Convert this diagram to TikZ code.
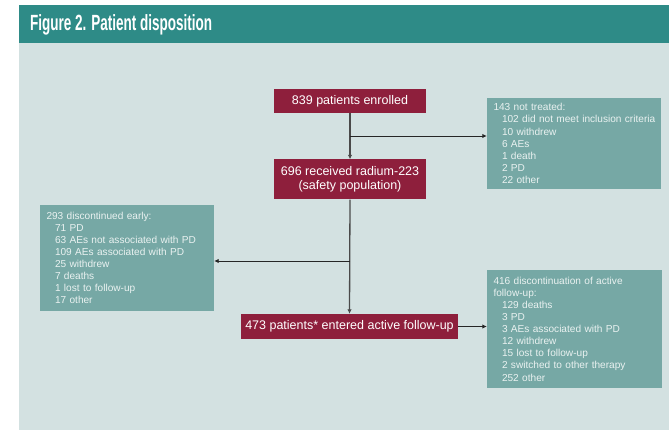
\documentclass[tikz,border=0pt]{standalone}
\usepackage{fontspec}
\setmainfont{Liberation Sans}
\usetikzlibrary{arrows.meta}
\definecolor{headteal}{HTML}{2E8B87}
\definecolor{lightbg}{HTML}{D3E1E1}
\definecolor{boxteal}{HTML}{76A8A5}
\definecolor{maroon}{HTML}{8E1F3C}
\definecolor{tealtext}{HTML}{EAF2F1}
\definecolor{vline}{HTML}{4A4A4A}
\newcommand{\ind}{\hspace*{8.5pt}}
\newcommand{\nohyph}{\hyphenpenalty=10000\relax\exhyphenpenalty=10000\relax\hbadness=10000\relax\hfuzz=20pt\relax}
\tikzset{
  redbox/.style={fill=maroon, text=white, inner sep=0pt, align=center,
    font=\fontsize{12.5}{14.5}\selectfont},
  tealbox/.style={fill=boxteal, text=tealtext, inner xsep=6.5pt, inner ysep=0pt, align=left,
    font=\fontsize{10.1}{12.1}\selectfont\nohyph},
  vconn/.style={draw=vline, line width=1.3pt, -{Latex[length=4.5pt,width=4.5pt]}},
  hconn/.style={draw=black!85, line width=0.9pt, -{Latex[length=4.5pt,width=4.5pt]}}
}
\begin{document}
\begin{tikzpicture}[x=1pt,y=-1pt]
\useasboundingbox (0,0) rectangle (669,430);
\fill[white] (0,0) rectangle (669,430);
\fill[headteal] (19,5) rectangle (669,43.5);
\fill[lightbg] (19,43.5) rectangle (669,430);
\node[anchor=base west, text=white, inner sep=0pt, font=\fontsize{22}{24}\selectfont\bfseries] (title) at (30,30.3)
  {\resizebox{182pt}{\height}{Figure 2. Patient disposition}};

\node[redbox, minimum width=152pt, minimum height=24pt] (enrolled) at (350,101) {839 patients enrolled};
\node[redbox, minimum width=152pt, minimum height=40pt] (radium) at (350,179.5) {696 received radium-223\\(safety population)};
\node[redbox, minimum width=217pt, minimum height=25pt] (follow) at (349.5,326.5) {473 patients* entered active follow-up};

\node[tealbox, text width=161pt, minimum height=91pt] (nottreated) at (574,143.5)
  {143 not treated:\\\mbox{\ind 102 did not meet inclusion criteria}\\\ind 10 withdrew\\\ind 6 AEs\\\ind 1 death\\\ind 2 PD\\\ind 22 other};
\node[tealbox, text width=161pt, minimum height=106pt] (discearly) at (127,258)
  {293 discontinued early:\\\ind 71 PD\\\ind 63 AEs not associated with PD\\\ind 109 AEs associated with PD\\\ind 25 withdrew\\\ind 7 deaths\\\ind 1 lost to follow-up\\\ind 17 other};
\node[tealbox, text width=162pt, minimum height=118pt] (discactive) at (574.5,329)
  {416 discontinuation of active\\follow-up:\\\ind 129 deaths\\\ind 3 PD\\\ind 3 AEs associated with PD\\\ind 12 withdrew\\\ind 15 lost to follow-up\\\ind 2 switched to other therapy\\\ind 252 other};

\coordinate (b1) at (350,136);
\coordinate (b2) at (350,261);
\draw[vconn] (enrolled.south) -- (radium.north);
\draw[vconn] (radium.south) -- (follow.north);
\draw[hconn] (b1) -- (b1 -| nottreated.west);
\draw[hconn] (b2) -- (b2 -| discearly.east);
\draw[hconn] (follow.east) -- (follow.east -| discactive.west);
\end{tikzpicture}
\end{document}
